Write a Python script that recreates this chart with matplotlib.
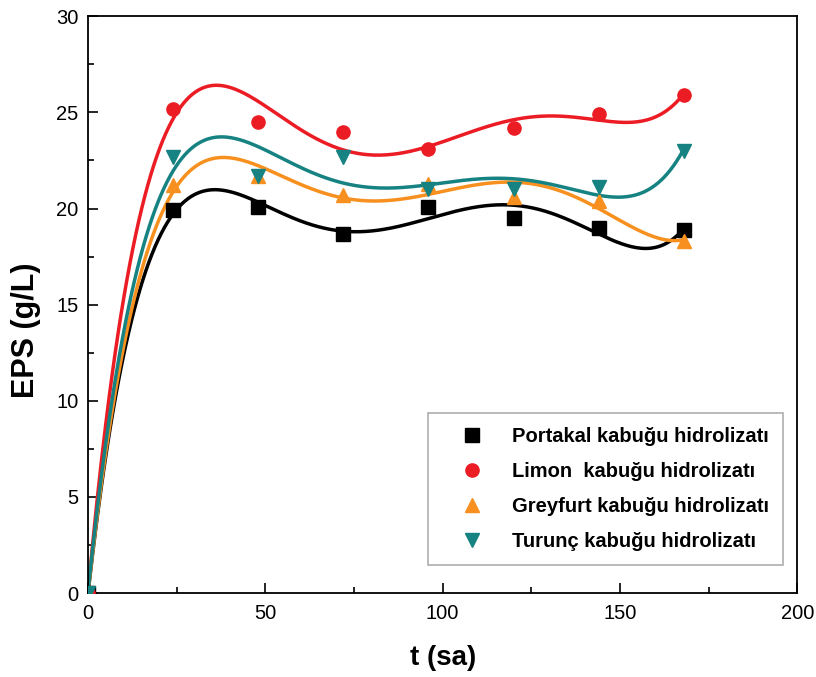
import numpy as np
import matplotlib
matplotlib.use('Agg')
import matplotlib.pyplot as plt
from matplotlib.ticker import MultipleLocator

plt.rcParams['font.family'] = ['Liberation Sans', 'DejaVu Sans']

# Sampling times (hours) and EPS concentrations (g/L)
t = [0, 24, 48, 72, 96, 120, 144, 168]
portakal = [0, 19.9, 20.1, 18.7, 20.1, 19.5, 19.0, 18.9]
limon = [0, 25.2, 24.5, 24.0, 23.1, 24.2, 24.9, 25.9]
greyfurt = [0, 21.2, 21.7, 20.7, 21.3, 20.6, 20.4, 18.3]
turunc = [0, 22.7, 21.7, 22.7, 21.0, 21.0, 21.1, 23.0]

series = [
    ('Portakal kabuğu hidrolizatı', portakal, '#000000', 's'),
    ('Limon  kabuğu hidrolizatı', limon, '#ec1c24', 'o'),
    ('Greyfurt kabuğu hidrolizatı', greyfurt, '#f7901e', '^'),
    ('Turunç kabuğu hidrolizatı', turunc, '#178282', 'v'),
]

fig = plt.figure(figsize=(8.16, 6.77), dpi=100)
ax = fig.add_axes([0.108, 0.124, 0.869, 0.852])

tt = np.array(t, dtype=float)
ts = np.linspace(0, 168, 400)
for name, y, color, marker in series:
    # 5th order polynomial fit through the measurements
    coef = np.polyfit(tt / 168, y, 5)
    ax.plot(ts, np.polyval(coef, ts / 168), color=color, lw=2.5, zorder=2)
    ax.plot(t, y, linestyle='none', marker=marker, color=color,
            markersize=9.5, label=name, zorder=3)

ax.set_xlim(0, 200)
ax.set_ylim(0, 30)
ax.xaxis.set_major_locator(MultipleLocator(50))
ax.xaxis.set_minor_locator(MultipleLocator(25))
ax.yaxis.set_major_locator(MultipleLocator(5))
ax.yaxis.set_minor_locator(MultipleLocator(2.5))
ax.tick_params(which='both', direction='in', top=False, right=False,
               labelsize=14.5, width=1.2)
ax.tick_params(which='major', length=7)
ax.tick_params(which='minor', length=4)
ax.tick_params(axis='x', pad=8)
ax.tick_params(axis='y', pad=7)
for s in ax.spines.values():
    s.set_linewidth(1.3)

ax.set_xlabel('t (sa)', fontsize=20, fontweight='bold', labelpad=16)
ax.set_ylabel('EPS (g/L)', fontsize=22, fontweight='bold')
ax.yaxis.set_label_coords(-0.066, 0.456)

leg = ax.legend(loc='lower right', bbox_to_anchor=(0.98, 0.0485),
                fontsize=14.5, frameon=True, fancybox=False,
                handletextpad=0.55, borderpad=0.7, borderaxespad=0,
                labelspacing=0.8, handlelength=2.9)
leg.get_frame().set_edgecolor('#999999')
leg.get_frame().set_linewidth(1.2)
for txt in leg.get_texts():
    txt.set_fontweight('bold')

fig.savefig('out.png', dpi=100)
